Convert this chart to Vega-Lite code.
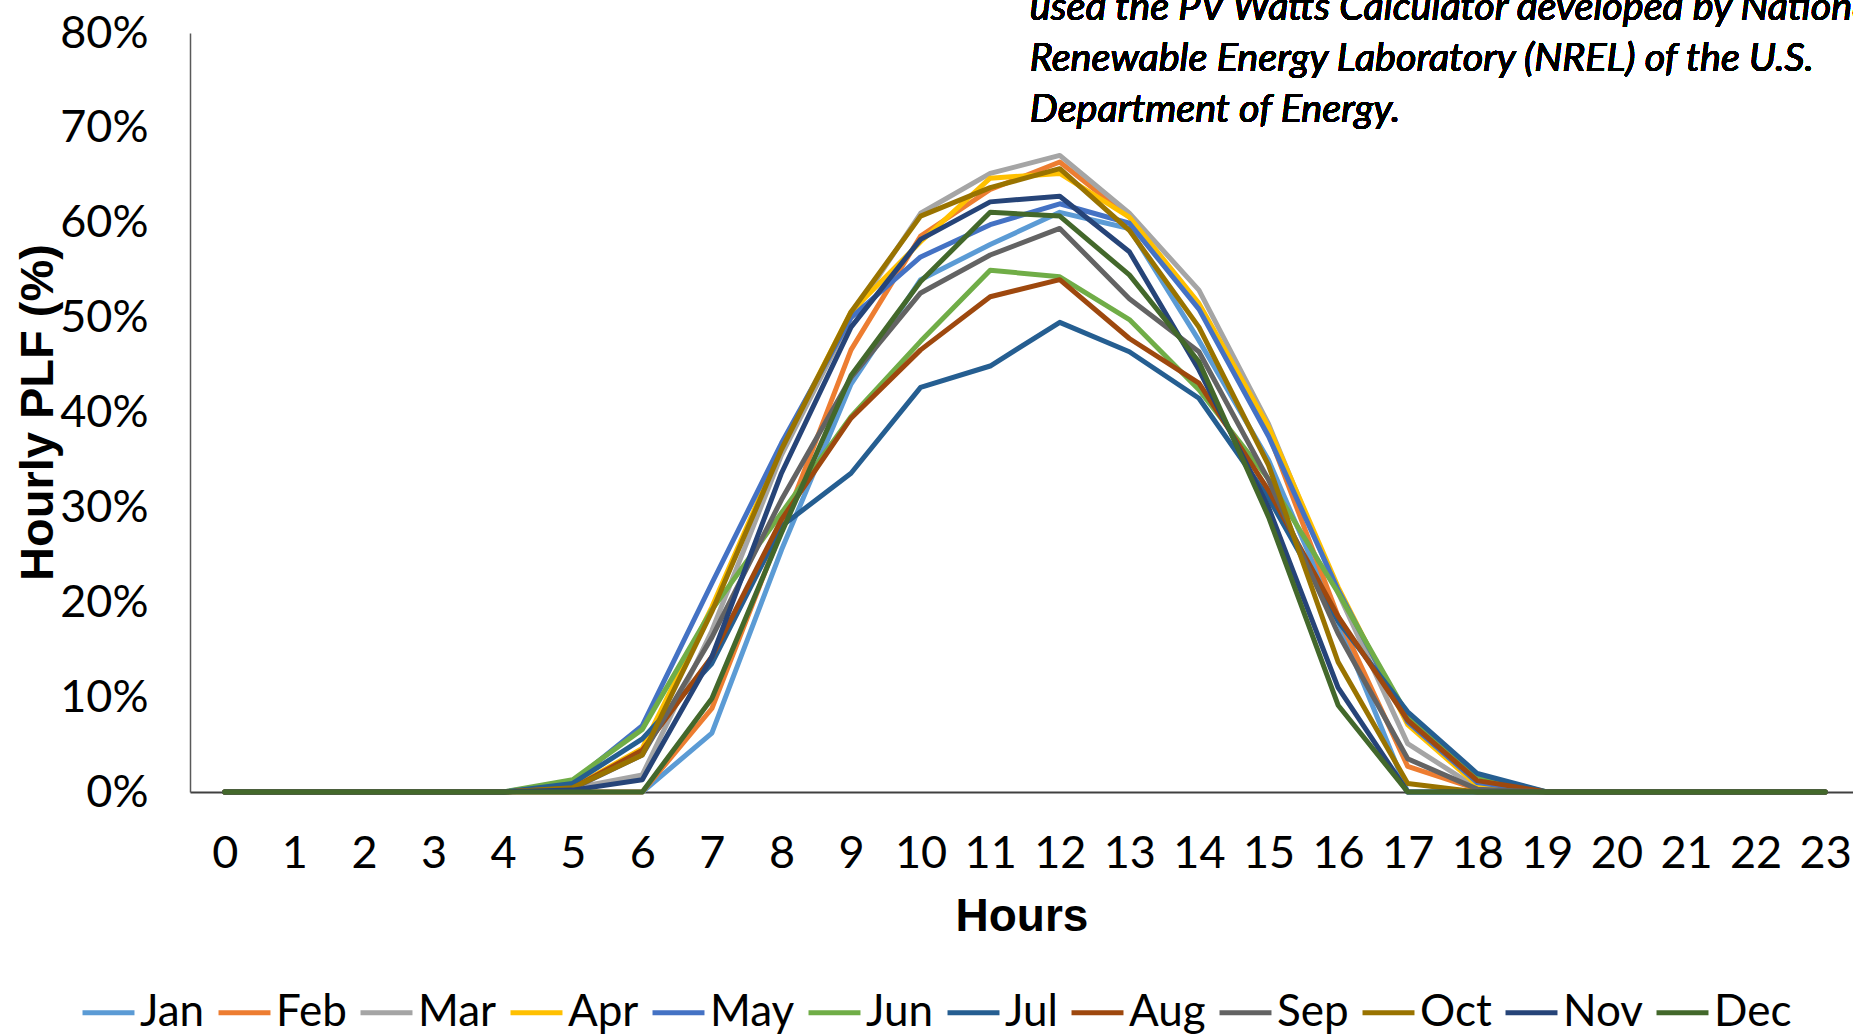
{
  "$schema": "https://vega.github.io/schema/vega-lite/v6.json",
  "width": 1663,
  "height": 759,
  "autosize": {"type": "none"},
  "padding": {"left": 190, "top": 33, "right": 0, "bottom": 244},
  "background": "white",
  "config": {"view": {"stroke": null}, "font": "Lato"},
  "data": {
    "values": [
      {"h": 0, "Jan": 0, "Feb": 0, "Mar": 0, "Apr": 0, "May": 0, "Jun": 0, "Jul": 0, "Aug": 0, "Sep": 0, "Oct": 0, "Nov": 0, "Dec": 0},
      {"h": 1, "Jan": 0, "Feb": 0, "Mar": 0, "Apr": 0, "May": 0, "Jun": 0, "Jul": 0, "Aug": 0, "Sep": 0, "Oct": 0, "Nov": 0, "Dec": 0},
      {"h": 2, "Jan": 0, "Feb": 0, "Mar": 0, "Apr": 0, "May": 0, "Jun": 0, "Jul": 0, "Aug": 0, "Sep": 0, "Oct": 0, "Nov": 0, "Dec": 0},
      {"h": 3, "Jan": 0, "Feb": 0, "Mar": 0, "Apr": 0, "May": 0, "Jun": 0, "Jul": 0, "Aug": 0, "Sep": 0, "Oct": 0, "Nov": 0, "Dec": 0},
      {"h": 4, "Jan": 0, "Feb": 0, "Mar": 0, "Apr": 0, "May": 0, "Jun": 0, "Jul": 0, "Aug": 0, "Sep": 0, "Oct": 0, "Nov": 0, "Dec": 0},
      {"h": 5, "Jan": 0, "Feb": 0, "Mar": 0.004, "Apr": 0.0045, "May": 0.0105, "Jun": 0.013, "Jul": 0.009, "Aug": 0.004, "Sep": 0.0036, "Oct": 0.0045, "Nov": 0.002, "Dec": 0},
      {"h": 6, "Jan": 0, "Feb": 0, "Mar": 0.018, "Apr": 0.046, "May": 0.070, "Jun": 0.066, "Jul": 0.056, "Aug": 0.044, "Sep": 0.039, "Oct": 0.039, "Nov": 0.013, "Dec": 0},
      {"h": 7, "Jan": 0.062, "Feb": 0.088, "Mar": 0.17, "Apr": 0.195, "May": 0.22, "Jun": 0.192, "Jul": 0.1355, "Aug": 0.1425, "Sep": 0.163, "Oct": 0.19, "Nov": 0.1425, "Dec": 0.0986},
      {"h": 8, "Jan": 0.255, "Feb": 0.276, "Mar": 0.355, "Apr": 0.363, "May": 0.3675, "Jun": 0.294, "Jul": 0.28, "Aug": 0.287, "Sep": 0.308, "Oct": 0.361, "Nov": 0.336, "Dec": 0.273},
      {"h": 9, "Jan": 0.43, "Feb": 0.466, "Mar": 0.50, "Apr": 0.506, "May": 0.50, "Jun": 0.3955, "Jul": 0.336, "Aug": 0.394, "Sep": 0.437, "Oct": 0.506, "Nov": 0.49, "Dec": 0.439},
      {"h": 10, "Jan": 0.54, "Feb": 0.586, "Mar": 0.61, "Apr": 0.58, "May": 0.564, "Jun": 0.475, "Jul": 0.4265, "Aug": 0.466, "Sep": 0.526, "Oct": 0.607, "Nov": 0.5825, "Dec": 0.538},
      {"h": 11, "Jan": 0.577, "Feb": 0.635, "Mar": 0.652, "Apr": 0.647, "May": 0.598, "Jun": 0.55, "Jul": 0.449, "Aug": 0.522, "Sep": 0.566, "Oct": 0.637, "Nov": 0.622, "Dec": 0.611},
      {"h": 12, "Jan": 0.611, "Feb": 0.664, "Mar": 0.671, "Apr": 0.652, "May": 0.62, "Jun": 0.543, "Jul": 0.495, "Aug": 0.54, "Sep": 0.594, "Oct": 0.657, "Nov": 0.628, "Dec": 0.607},
      {"h": 13, "Jan": 0.594, "Feb": 0.606, "Mar": 0.61, "Apr": 0.606, "May": 0.5995, "Jun": 0.498, "Jul": 0.464, "Aug": 0.478, "Sep": 0.52, "Oct": 0.592, "Nov": 0.5695, "Dec": 0.545},
      {"h": 14, "Jan": 0.476, "Feb": 0.512, "Mar": 0.529, "Apr": 0.515, "May": 0.509, "Jun": 0.424, "Jul": 0.415, "Aug": 0.431, "Sep": 0.464, "Oct": 0.49, "Nov": 0.445, "Dec": 0.4535},
      {"h": 15, "Jan": 0.35, "Feb": 0.378, "Mar": 0.388, "Apr": 0.385, "May": 0.375, "Jun": 0.33, "Jul": 0.31, "Aug": 0.318, "Sep": 0.329, "Oct": 0.3446, "Nov": 0.30, "Dec": 0.29},
      {"h": 16, "Jan": 0.18, "Feb": 0.185, "Mar": 0.21, "Apr": 0.216, "May": 0.213, "Jun": 0.21, "Jul": 0.18, "Aug": 0.185, "Sep": 0.167, "Oct": 0.137, "Nov": 0.11, "Dec": 0.0915},
      {"h": 17, "Jan": 0, "Feb": 0.027, "Mar": 0.051, "Apr": 0.071, "May": 0.074, "Jun": 0.081, "Jul": 0.0845, "Aug": 0.0757, "Sep": 0.035, "Oct": 0.009, "Nov": 0, "Dec": 0},
      {"h": 18, "Jan": 0, "Feb": 0.003, "Mar": 0.004, "Apr": 0.007, "May": 0.01, "Jun": 0.017, "Jul": 0.0195, "Aug": 0.012, "Sep": 0.003, "Oct": 0, "Nov": 0, "Dec": 0},
      {"h": 19, "Jan": 0, "Feb": 0, "Mar": 0, "Apr": 0, "May": 0, "Jun": 0, "Jul": 0, "Aug": 0, "Sep": 0, "Oct": 0, "Nov": 0, "Dec": 0},
      {"h": 20, "Jan": 0, "Feb": 0, "Mar": 0, "Apr": 0, "May": 0, "Jun": 0, "Jul": 0, "Aug": 0, "Sep": 0, "Oct": 0, "Nov": 0, "Dec": 0},
      {"h": 21, "Jan": 0, "Feb": 0, "Mar": 0, "Apr": 0, "May": 0, "Jun": 0, "Jul": 0, "Aug": 0, "Sep": 0, "Oct": 0, "Nov": 0, "Dec": 0},
      {"h": 22, "Jan": 0, "Feb": 0, "Mar": 0, "Apr": 0, "May": 0, "Jun": 0, "Jul": 0, "Aug": 0, "Sep": 0, "Oct": 0, "Nov": 0, "Dec": 0},
      {"h": 23, "Jan": 0, "Feb": 0, "Mar": 0, "Apr": 0, "May": 0, "Jun": 0, "Jul": 0, "Aug": 0, "Sep": 0, "Oct": 0, "Nov": 0, "Dec": 0}
    ]
  },
  "layer": [
    {
      "transform": [
        {"fold": ["Jan", "Feb", "Mar", "Apr", "May", "Jun", "Jul", "Aug", "Sep", "Oct", "Nov", "Dec"], "as": ["month", "plf"]}
      ],
      "mark": {"type": "line", "strokeWidth": 5, "strokeJoin": "round", "strokeCap": "round"},
      "encoding": {
        "x": {
          "field": "h", "type": "quantitative",
          "scale": {"domain": [-0.5, 23.4], "nice": false, "zero": false},
          "axis": {
            "title": "Hours",
            "values": [0,1,2,3,4,5,6,7,8,9,10,11,12,13,14,15,16,17,18,19,20,21,22,23],
            "format": "d",
            "grid": false, "ticks": false,
            "domainColor": "#404040", "domainWidth": 2,
            "labelFont": "Lato", "labelFontSize": 45, "labelColor": "black",
            "labelPadding": 39, "labelFlush": false, "labelOverlap": false,
            "titleFont": "Liberation Sans", "titleFontSize": 46, "titleFontWeight": "bold", "titleColor": "black",
            "titleBaseline": "alphabetic", "titleY": 138
          }
        },
        "y": {
          "field": "plf", "type": "quantitative",
          "scale": {"domain": [0, 0.8], "nice": false},
          "axis": {
            "title": "Hourly PLF (%)",
            "values": [0, 0.1, 0.2, 0.3, 0.4, 0.5, 0.6, 0.7, 0.8],
            "format": ".0%",
            "grid": false, "ticks": false,
            "domainColor": "#595959", "domainWidth": 1.5,
            "labelFont": "Lato", "labelFontSize": 45, "labelColor": "black",
            "labelPadding": 42, "labelOverlap": false, "labelFlush": false,
            "titleFont": "Liberation Sans", "titleFontSize": 47, "titleFontWeight": "bold", "titleColor": "black",
            "titleBaseline": "alphabetic", "titleAngle": -90, "titleX": -138, "titleY": 379, "titleAlign": "center"
          }
        },
        "color": {
          "field": "month", "type": "nominal",
          "scale": {
            "domain": ["Jan", "Feb", "Mar", "Apr", "May", "Jun", "Jul", "Aug", "Sep", "Oct", "Nov", "Dec"],
            "range": ["#5B9BD5", "#ED7D31", "#A5A5A5", "#FFC000", "#4472C4", "#70AD47", "#255E91", "#9E480E", "#636363", "#997300", "#264478", "#43682B"]
          },
          "legend": {
            "orient": "none", "legendX": -110, "legendY": 951, "padding": 0,
            "direction": "horizontal", "columns": 12, "title": null,
            "symbolType": "stroke", "symbolSize": 2700, "symbolStrokeWidth": 5,
            "labelFont": "Lato", "labelFontSize": 44, "labelColor": "black",
            "labelOffset": 3, "columnPadding": 3, "labelLimit": 0
          }
        }
      }
    },
    {
      "mark": {"type": "text", "align": "left", "baseline": "alphabetic", "font": "Lato", "fontStyle": "italic", "fontSize": 39.5, "lineHeight": 51, "color": "black"},
      "encoding": {
        "x": {"datum": 11.57},
        "y": {"datum": 0.8138},
        "text": {"value": ["used the PV Watts Calculator developed by National", "Renewable Energy Laboratory (NREL) of the U.S.", "Department of Energy."]}
      }
    }
  ]
}
